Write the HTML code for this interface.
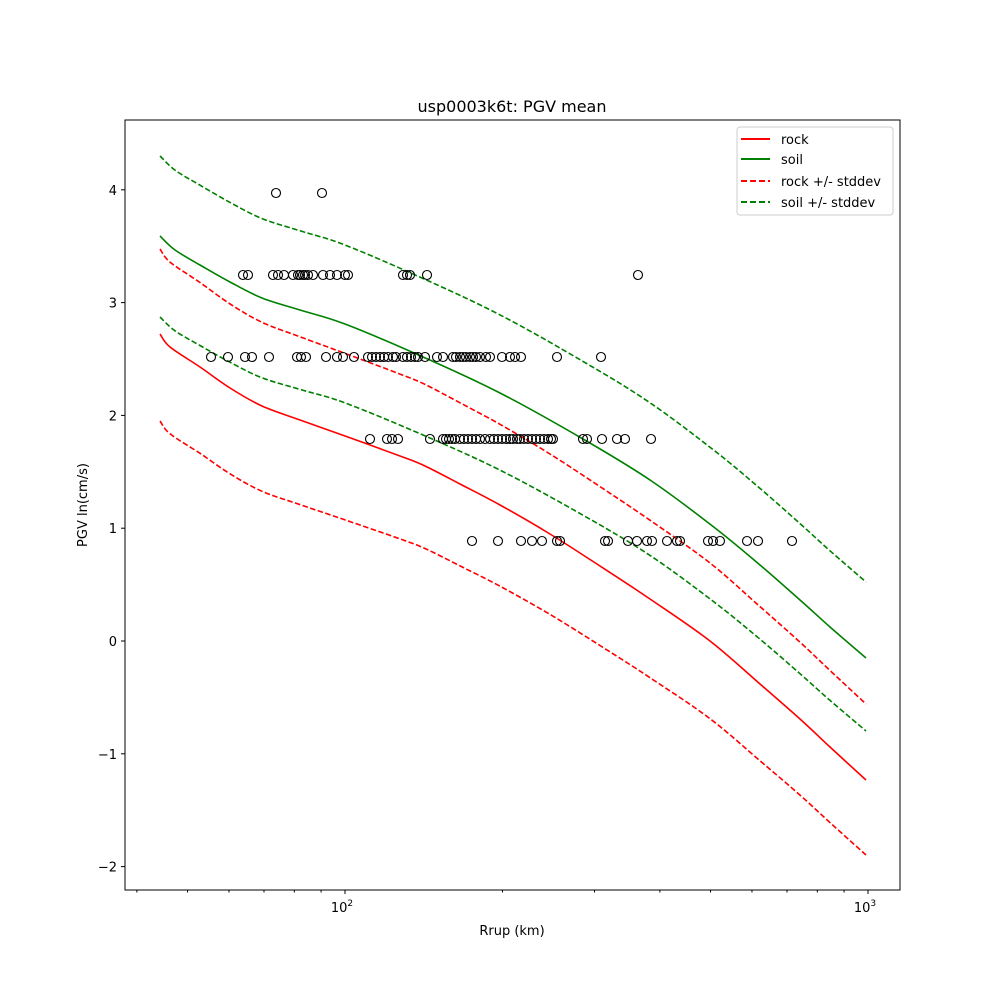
<!DOCTYPE html>
<html><head><meta charset="utf-8"><style>
body{margin:0;background:#fff}
svg{display:block;font-family:"DejaVu Sans","Liberation Sans",sans-serif}
</style></head><body>
<svg id="s" width="1000" height="1000" xmlns="http://www.w3.org/2000/svg">
<rect width="1000" height="1000" fill="#fff"/>
<text x="512" y="112" font-size="16" text-anchor="middle">usp0003k6t: PGV mean</text>
<text x="512" y="935" font-size="13" text-anchor="middle">Rrup (km)</text>
<text x="87" y="505" font-size="13" text-anchor="middle" transform="rotate(-90 87 505)">PGV ln(cm/s)</text>
<g id="g"></g>
<rect x="125" y="120" width="775" height="770" fill="none" stroke="#000" stroke-width="1"/>
<g font-size="13">
<rect x="737" y="127" width="156" height="88" rx="3" fill="#fff" fill-opacity="0.8" stroke="#ccc"/>
<line x1="741" y1="139" x2="770" y2="139" stroke="red" stroke-width="2"/>
<text x="781" y="144">rock</text>
<line x1="741" y1="159" x2="770" y2="159" stroke="green" stroke-width="2"/>
<text x="781" y="164">soil</text>
<line x1="741" y1="181" x2="770" y2="181" stroke="red" stroke-width="2" stroke-dasharray="6,3"/>
<text x="781" y="186">rock +/- stddev</text>
<line x1="741" y1="202" x2="770" y2="202" stroke="green" stroke-width="2" stroke-dasharray="6,3"/>
<text x="781" y="207">soil +/- stddev</text>
</g>
</svg>
<script>
var g=document.getElementById('g'),h='';
function yv(v){return 641-112.8*v;}
for(var v=-2;v<=4;v++){var y=yv(v);h+='<line x1="121" y1="'+y+'" x2="125" y2="'+y+'" stroke="#000"/>';
h+='<text x="117" y="'+(y+5)+'" font-size="13" text-anchor="end">'+(v<0?'\u2212'+(-v):v)+'</text>';}
function xr(r){return 345+523*Math.log10(r/100);}
[40,50,60,70,80,90,200,300,400,500,600,700,800,900].forEach(function(r){var x=xr(r);h+='<line x1="'+x+'" y1="890" x2="'+x+'" y2="892.5" stroke="#000"/>';});
[[100,'2'],[1000,'3']].forEach(function(a){var x=xr(a[0]);h+='<line x1="'+x+'" y1="890" x2="'+x+'" y2="894" stroke="#000"/>';
h+='<text x="'+(x-3)+'" y="912" font-size="13" text-anchor="middle">10<tspan font-size="9" dy="-6">'+a[1]+'</tspan></text>';});
var rock=[[160,334],[170,347],[200,367],[230,388],[262,406],[300,420],[345,436],[400,456],[425,466],[460,484],[500,505],[550,534],[600,566],[650,599],[710,641],[760,684],[800,719],[830,747],[866,780]];
var soil=[[160,236],[175,250],[200,265],[230,282],[262,298],[300,310],[345,324],[423,357],[500,393],[583,439],[650,480],[715,528],[760,565],[800,600],[830,627],[866,658]];
function path(p0,off0,off1,col,dash){
var p=p0.map(function(q){var t=(q[0]-160)/706;return [q[0],q[1]+off0+(off1-off0)*t];});
var d='M'+p[0][0]+','+p[0][1];
for(var i=0;i<p.length-1;i++){var a=p[i>0?i-1:i],b=p[i],c=p[i+1],e=p[i+2<p.length?i+2:i+1];
var c1x=b[0]+(c[0]-a[0])/6,c1y=b[1]+(c[1]-a[1])/6,c2x=c[0]-(e[0]-b[0])/6,c2y=c[1]-(e[1]-b[1])/6;
d+='C'+c1x.toFixed(1)+','+c1y.toFixed(1)+' '+c2x.toFixed(1)+','+c2y.toFixed(1)+' '+c[0]+','+c[1].toFixed(1);}
return '<path d="'+d+'" fill="none" stroke="'+col+'" stroke-width="1.6"'+(dash?' stroke-dasharray="5.5,2.5"':'')+'/>';}
h+=path(rock,0,0,'red');h+=path(soil,0,0,'green');
h+=path(rock,-85,-76,'red',1);h+=path(rock,87,75,'red',1);
h+=path(soil,-80,-76,'green',1);h+=path(soil,81,73,'green',1);
var rows={193:[276,322],275:[243,248,273,278,284,293,298,300,303,305,308,313,323,330,337,345,348,403,407,410,427,638],
357:[211,228,245,252,269,297,301,306,326,337,343,354,368,372,376,380,384,388,393,396,403,407,411,415,418,425,437,443,453,456,460,463,466,470,473,476,480,486,490,502,510,515,521,557,601],
439:[370,387,392,398,430,443,446,449,452,455,460,464,468,472,476,480,485,490,494,498,502,506,510,513,517,520,524,528,532,536,540,544,548,551,553,583,587,602,617,625,651],
541:[472,498,521,532,542,557,560,605,608,628,637,647,652,667,677,680,708,713,720,747,758,792]};
for(var y in rows){rows[y].forEach(function(x){h+='<circle cx="'+x+'" cy="'+y+'" r="4.5" fill="none" stroke="#000" stroke-width="1.1"/>';});}
g.innerHTML=h;
</script>
</body></html>
